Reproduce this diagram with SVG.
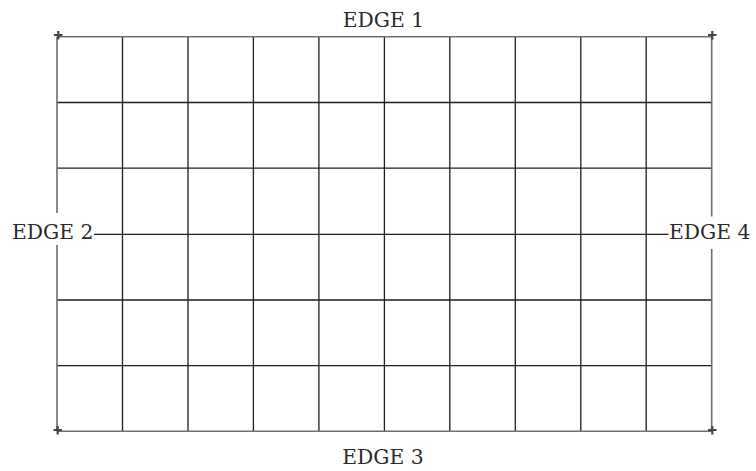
<svg xmlns="http://www.w3.org/2000/svg" width="756" height="471" viewBox="0 0 756 471">
<style>
.bg{fill:#ffffff}
.grid{stroke:#1e1e1e;stroke-width:1.3;fill:none}
.border{stroke:#6e6e6e;stroke-width:1.6;fill:none}
.mark{stroke:#444444;stroke-width:2.2;fill:none}
.lbl{font-family:"DejaVu Serif","Liberation Serif",serif;font-size:20.3px;fill:#2a2a2a}
</style>
<rect class="bg" x="0" y="0" width="756" height="471"/>
<g id="grid">
<path class="grid" d="M122.5 36.7V431.3M188 36.7V431.3M253.4 36.7V431.3M318.9 36.7V431.3M384.4 36.7V431.3M449.8 36.7V431.3M515.3 36.7V431.3M580.8 36.7V431.3M646.2 36.7V431.3"/>
<path class="grid" d="M57 102.5H711.7M57 168.2H711.7M57 300H711.7M57 365.6H711.7"/>
<path class="grid" d="M94 234.3H668.5"/>
</g>
<g id="border">
<path class="border" d="M57 36.7H711.7M57 431.3H711.7"/>
<path class="border" d="M57 36.7V213M57 245V431.3"/>
<path class="border" d="M711.7 36.7V216.5M711.7 249V431.3"/>
</g>
<g id="corners">
<path class="mark" d="M54 35H62.5M58.3 31V39.5"/>
<path class="mark" d="M708 35H716.5M712.3 31V39.5"/>
<path class="mark" d="M53.5 430H62M57.7 426V434.5"/>
<path class="mark" d="M708 430H716.5M712.3 426V434.5"/>
</g>
<g id="labels">
<text id="edge1" class="lbl" x="383.5" y="26.7" text-anchor="middle">EDGE 1</text>
<text id="edge2" class="lbl" x="12" y="239.3">EDGE 2</text>
<text id="edge3" class="lbl" x="383" y="464.3" text-anchor="middle">EDGE 3</text>
<text id="edge4" class="lbl" x="669" y="239.3">EDGE 4</text>
</g>
</svg>
